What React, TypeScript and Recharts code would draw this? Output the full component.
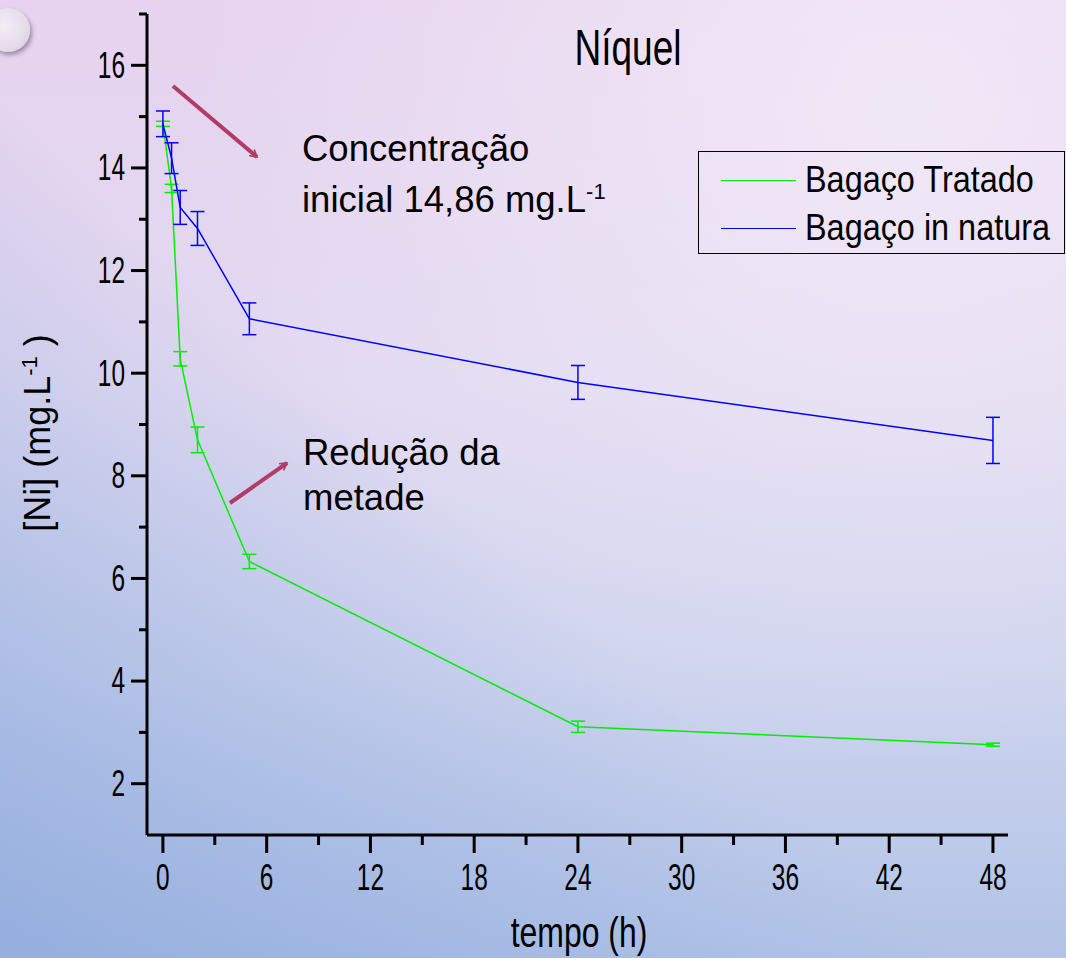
import React from "react";
import { ErrorBar, Line, LineChart, XAxis, YAxis } from "recharts";

const times = [0, 0.5, 1, 2, 5, 24, 48];
const tratado = [14.86, 13.6, 10.28, 8.7, 6.33, 3.11, 2.76];
const tratadoErr = [0.05, 0.08, 0.14, 0.25, 0.14, 0.11, 0.03];
const natura = [14.86, 14.19, 13.23, 12.82, 11.06, 9.82, 8.69];
const naturaErr = [0.25, 0.3, 0.33, 0.33, 0.31, 0.33, 0.45];

const xTicks = [0, 3, 6, 9, 12, 15, 18, 21, 24, 27, 30, 33, 36, 39, 42, 45, 48];
const yTicks = [2, 3, 4, 5, 6, 7, 8, 9, 10, 11, 12, 13, 14, 15, 16, 17];

const seriesNames = ["Bagaço Tratado", "Bagaço in natura"];
const seriesColors = ["#00ee00", "#0000ff"];

const data = times.map((t, i) => ({
  t,
  tratado: tratado[i],
  tratadoErr: tratadoErr[i],
  natura: natura[i],
  naturaErr: naturaErr[i],
}));

const font = "'Liberation Sans', Arial, sans-serif";
const tickSqueeze = 0.66;

function XTick({ x, y, payload }: any) {
  const major = payload.value % 6 === 0;
  return (
    <g>
      <line x1={x} x2={x} y1={y} y2={y + (major ? 18 : 10)} stroke="#000" strokeWidth={3} />
      {major && (
        <text
          transform={`translate(${x},${y + 43}) scale(${tickSqueeze},1)`}
          textAnchor="middle"
          dominantBaseline="central"
          fontFamily={font}
          fontSize={37}
          fill="#000"
        >
          {payload.value}
        </text>
      )}
    </g>
  );
}

function YTick({ x, y, payload }: any) {
  const major = payload.value % 2 === 0;
  return (
    <g>
      <line x1={x} x2={x - (major ? 16 : 8)} y1={y} y2={y} stroke="#000" strokeWidth={3} />
      {major && (
        <text
          transform={`translate(${x - 22},${y}) scale(${tickSqueeze},1)`}
          textAnchor="end"
          dominantBaseline="central"
          fontFamily={font}
          fontSize={37}
          fill="#000"
        >
          {payload.value}
        </text>
      )}
    </g>
  );
}

const label = (extra: React.CSSProperties): React.CSSProperties => ({
  position: "absolute",
  fontFamily: font,
  color: "#000",
  whiteSpace: "pre",
  ...extra,
});

export default function App() {
  return (
    <div
      style={{
        position: "absolute",
        left: 0,
        top: 0,
        width: 1066,
        height: 958,
        overflow: "hidden",
        background:
          "linear-gradient(to top right, rgba(140,168,220,0.75) 0%, rgba(140,168,220,0) 45%), radial-gradient(ellipse at 85% 10%, rgba(246,240,250,0.7) 0%, rgba(246,240,250,0) 55%), linear-gradient(to bottom, #e7d3ef 0%, #e1d9f1 40%, #ced4ee 70%, #b2c3e7 100%)",
      }}
    >
      <div
        style={{
          position: "absolute",
          left: -14,
          top: 8,
          width: 44,
          height: 44,
          borderRadius: "50%",
          background: "radial-gradient(circle at 40% 40%, #f4eef6 0%, #e6dcec 60%, #cfc4d6 100%)",
          boxShadow: "2px 3px 4px rgba(80,70,90,0.5)",
        }}
      />
      <LineChart width={1066} height={958} data={data} margin={{ top: 14, right: 58, bottom: 23, left: 47 }}>
        <XAxis
          dataKey="t"
          type="number"
          domain={[-0.92, 48.87]}
          ticks={xTicks}
          allowDataOverflow
          height={100}
          tickSize={0}
          tickMargin={0}
          tick={<XTick />}
          axisLine={{ stroke: "#000", strokeWidth: 3 }}
        />
        <YAxis
          type="number"
          domain={[1, 17]}
          ticks={yTicks}
          allowDataOverflow
          width={100}
          tickSize={0}
          tickMargin={0}
          tick={<YTick />}
          axisLine={{ stroke: "#000", strokeWidth: 3 }}
        />
        <Line
          dataKey="tratado"
          name={seriesNames[0]}
          stroke={seriesColors[0]}
          strokeWidth={1.5}
          dot={false}
          isAnimationActive={false}
        >
          <ErrorBar dataKey="tratadoErr" width={7} stroke={seriesColors[0]} strokeWidth={1.5} />
        </Line>
        <Line
          dataKey="natura"
          name={seriesNames[1]}
          stroke={seriesColors[1]}
          strokeWidth={1.5}
          dot={false}
          isAnimationActive={false}
        >
          <ErrorBar dataKey="naturaErr" width={7} stroke={seriesColors[1]} strokeWidth={1.5} />
        </Line>
      </LineChart>

      <svg style={{ position: "absolute", left: 0, top: 0, pointerEvents: "none" }} width={1066} height={958}>
        <defs>
          <marker id="ah" markerWidth="10" markerHeight="10" refX="8" refY="5" orient="auto" markerUnits="userSpaceOnUse" viewBox="0 0 10 10">
            <path d="M1,1 L8,5 L1,9" fill="none" stroke="#b13c66" strokeWidth={1.6} />
          </marker>
        </defs>
        <line x1={173} y1={86} x2={257} y2={157} stroke="#b13c66" strokeWidth={4} markerEnd="url(#ah)" />
        <line x1={230} y1={503} x2={287} y2={463} stroke="#b13c66" strokeWidth={4} markerEnd="url(#ah)" />
      </svg>

      {/* legend */}
      <div style={{ position: "absolute", left: 698, top: 151, width: 367, height: 103, border: "1.5px solid #000", boxSizing: "border-box" }}>
        {seriesNames.map((name, i) => (
          <div key={name} style={{ position: "absolute", left: 22, top: 8 + i * 48, height: 40, display: "flex", alignItems: "center" }}>
            <div style={{ width: 75, height: 0, borderTop: `1.5px solid ${seriesColors[i]}` }} />
            <span style={{ marginLeft: 9, fontFamily: font, fontSize: 36, color: "#000", whiteSpace: "nowrap", display: "inline-block", transform: "scaleX(0.9)", transformOrigin: "left center" }}>
              {name}
            </span>
          </div>
        ))}
      </div>

      <div style={label({ left: 628, top: 48, fontSize: 50, transform: "translate(-50%, -50%) scaleX(0.74)" })}>Níquel</div>
      <div style={label({ left: 579, top: 933, fontSize: 42, lineHeight: "46px", transform: "translate(-50%, -50%) scaleX(0.76)" })}>tempo (h)</div>
      <div style={label({ left: 38, top: 433, fontSize: 36, transform: "translate(-50%, -50%) rotate(-90deg)" })}>
        {"[Ni] (mg.L"}
        <sup style={{ fontSize: 22 }}>-1</sup>
        {" )"}
      </div>

      <div style={label({ left: 302, top: 127, fontSize: 36.5, lineHeight: "43px" })}>
        Concentração
        <br />
        inicial 14,86 mg.L<sup style={{ fontSize: 22 }}>-1</sup>
      </div>
      <div style={label({ left: 303, top: 430, fontSize: 36.5, lineHeight: "45px" })}>
        Redução da
        <br />
        metade
      </div>
    </div>
  );
}
